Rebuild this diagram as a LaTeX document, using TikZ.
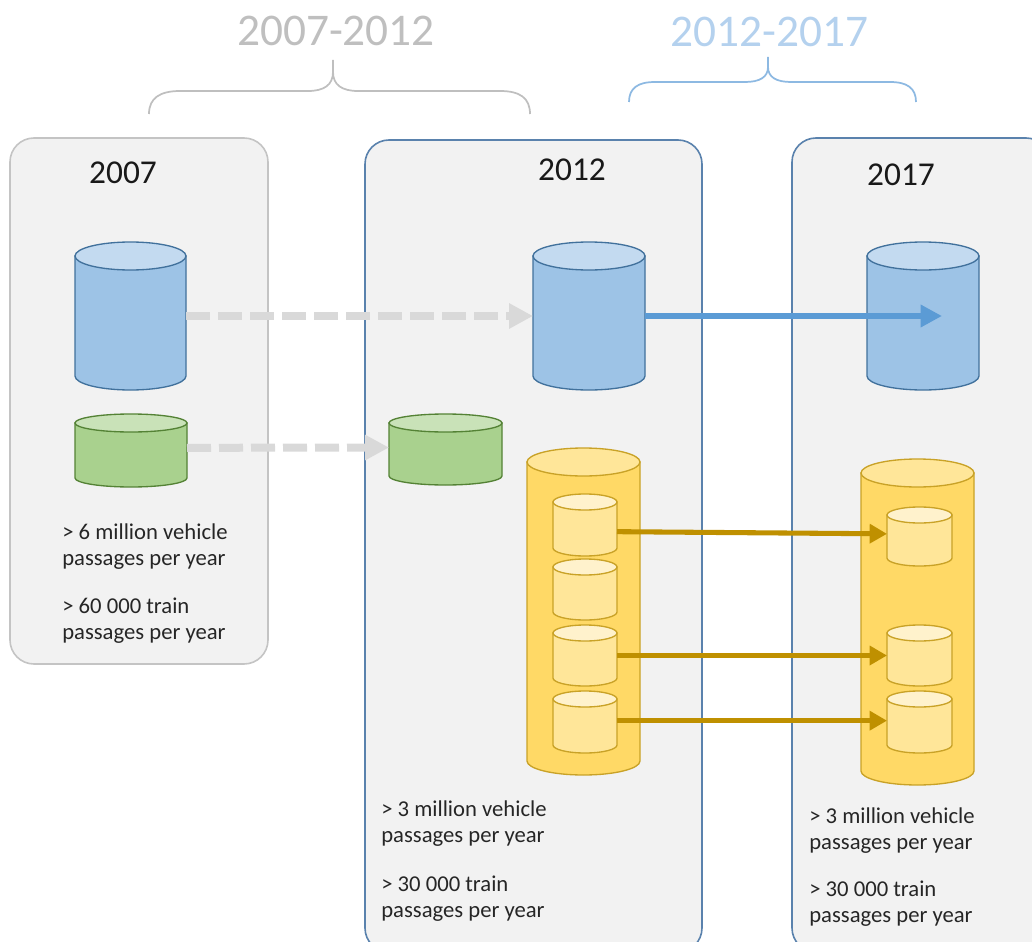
\documentclass[tikz,border=0pt]{standalone}
\usepackage{fontspec}
\setmainfont{Carlito}
\usetikzlibrary{arrows.meta}
\definecolor{panelfill}{HTML}{F2F2F2}
\definecolor{greyline}{HTML}{C4C4C4}
\definecolor{blueline}{HTML}{5A82AD}
\definecolor{cylblue}{HTML}{9DC3E6}
\definecolor{cylbluetop}{HTML}{C3DAF0}
\definecolor{cylbluestroke}{HTML}{41719C}
\definecolor{cylgreen}{HTML}{A9D18E}
\definecolor{cylgreentop}{HTML}{C9E2B8}
\definecolor{cylgreenstroke}{HTML}{548235}
\definecolor{cylyel}{HTML}{FFD966}
\definecolor{cylyeltop}{HTML}{FFE699}
\definecolor{cylyelstroke}{HTML}{C9A227}
\definecolor{smallfill}{HTML}{FFE699}
\definecolor{smalltop}{HTML}{FFF2CC}
\definecolor{greyarrow}{HTML}{D9D9D9}
\definecolor{bluearrow}{HTML}{5B9BD5}
\definecolor{goldarrow}{HTML}{BF9000}
\definecolor{rangegrey}{HTML}{BFBFBF}
\definecolor{rangeblue}{HTML}{B4D1EE}
\definecolor{braceblue}{HTML}{8DB9E2}
\definecolor{bodytext}{HTML}{262626}
\newcommand\mycyl[9]{%
  \pgfmathsetmacro\cylcx{(#2+#3)/2}%
  \pgfmathsetmacro\cylcy{(#4+#5)/2}%
  \pgfmathsetmacro\cylw{(#3-#2)*0.75}%
  \pgfmathsetmacro\cylh{(#5-#4)*0.75}%
  \pgfmathsetmacro\cylrx{(#3-#2)*0.375}%
  \pgfmathsetmacro\cylry{#6*0.75}%
  \pgfmathsetmacro\cyltop{#4+#6}%
  \pgfmathsetmacro\cylbot{#5-#6}%
  \node[cylbox, minimum width=\cylw pt, minimum height=\cylh pt] (#1) at (\cylcx,\cylcy) {};
  \filldraw[cylline, fill=#7, draw=#9] (#2,\cyltop) -- (#2,\cylbot) arc[start angle=180, end angle=360, x radius=\cylrx pt, y radius=\cylry pt] -- (#3,\cyltop) -- cycle;
  \filldraw[cylline, fill=#8, draw=#9] (\cylcx,\cyltop) ellipse[x radius=\cylrx pt, y radius=\cylry pt];
}
\tikzset{
  cylbox/.style={inner sep=0pt, outer sep=0pt, draw=none},
  cylline/.style={line width=1pt},
  panelgrey/.style={draw=greyline, fill=panelfill, line width=1.2pt, rounded corners=18pt},
  panelblue/.style={draw=blueline, fill=panelfill, line width=1.2pt, rounded corners=18pt},
  greydash/.style={draw=greyarrow, line width=6pt, dash pattern=on 18pt off 6pt, -{Triangle[length=18pt,width=18pt]}},
  bluearr/.style={draw=bluearrow, line width=4.2pt, -{Triangle[length=16pt,width=16pt]}},
  goldarr/.style={draw=goldarrow, line width=3.8pt, -{Triangle[length=13pt,width=14pt]}},
  info/.style={font=\fontsize{17}{19.5}\selectfont, text=bodytext, align=left, anchor=base west, inner sep=0pt},
  yeartitle/.style={font=\fontsize{25}{30}\selectfont, text=black!90, anchor=base, inner sep=0pt},
  rangetitle/.style={font=\fontsize{34}{40}\selectfont, anchor=base, inner sep=0pt},
  bracegrey/.style={draw=rangegrey, line width=1.3pt},
  braceblu/.style={draw=braceblue, line width=1.3pt}
}
\begin{document}
\begin{tikzpicture}[x=0.75pt,y=-0.75pt]
\useasboundingbox (0,0) rectangle (1032,942);
\clip (0,0) rectangle (1032,942);
% panels
\draw[panelgrey] (10,138) rectangle (268,664);
\draw[panelblue] (365,140) rectangle (702,952);
\draw[panelblue] (792,138) rectangle (1050,952);
% titles
\node[yeartitle] (h07) at (123,183) {2007};
\node[yeartitle] (h12) at (572,180) {2012};
\node[yeartitle] (h17) at (901,185) {2017};
\node[rangetitle, text=rangegrey] (r1) at (336,46) {2007-2012};
\node[rangetitle, text=rangeblue] (r2) at (769.5,47) {2012-2017};
% braces
\draw[bracegrey] (149,114) .. controls (149,98) and (160,91) .. (180,91) -- (308,91) .. controls (324,91) and (333,85) .. (333,72) -- (333,60);
\draw[bracegrey] (333,72) .. controls (333,85) and (342,91) .. (358,91) -- (500,91) .. controls (520,91) and (530,98) .. (530,114);
\draw[braceblu] (629,102) .. controls (629,88) and (638,82) .. (655,82) -- (745,82) .. controls (760,82) and (768,77) .. (768,67) -- (768,57);
\draw[braceblu] (768,67) .. controls (768,77) and (776,82) .. (791,82) -- (890,82) .. controls (907,82) and (916,88) .. (916,102);
% cylinders
\mycyl{b1}{75}{186}{242}{390}{14}{cylblue}{cylbluetop}{cylbluestroke}
\mycyl{b2}{533}{645}{242}{390}{14}{cylblue}{cylbluetop}{cylbluestroke}
\mycyl{b3}{867}{979}{242}{390}{14}{cylblue}{cylbluetop}{cylbluestroke}
\mycyl{g1}{75}{187}{414}{487}{9}{cylgreen}{cylgreentop}{cylgreenstroke}
\mycyl{g2}{389}{502}{414}{485}{9}{cylgreen}{cylgreentop}{cylgreenstroke}
\mycyl{y1}{527}{640}{448}{775}{14}{cylyel}{cylyeltop}{cylyelstroke}
\mycyl{y2}{861}{974}{459}{785}{14}{cylyel}{cylyeltop}{cylyelstroke}
\mycyl{s1}{553}{617}{494}{556}{8}{smallfill}{smalltop}{cylyelstroke}
\mycyl{s2}{553}{617}{559}{620}{8}{smallfill}{smalltop}{cylyelstroke}
\mycyl{s3}{553}{617}{625}{686}{8}{smallfill}{smalltop}{cylyelstroke}
\mycyl{s4}{553}{617}{691}{753}{8}{smallfill}{smalltop}{cylyelstroke}
\mycyl{t1}{887}{952}{507}{566}{8}{smallfill}{smalltop}{cylyelstroke}
\mycyl{t2}{887}{952}{625}{686}{8}{smallfill}{smalltop}{cylyelstroke}
\mycyl{t3}{887}{952}{691}{753}{8}{smallfill}{smalltop}{cylyelstroke}
% arrows
\draw[greydash] (b1.east) -- (b2.west);
\draw[greydash] ([yshift=2pt]g1.east) -- ([yshift=1.5pt]g2.west);
\coordinate (b3in) at (942,316);
\draw[bluearr] (b2.east) -- (b3in);
\draw[goldarr] ([yshift=-5pt]s1.east) -- ([yshift=2pt]t1.west);
\draw[goldarr] (s3.east) -- (t2.west);
\draw[goldarr] ([yshift=1pt]s4.east) -- ([yshift=1pt]t3.west);
% texts
\node[info] (t07a) at (62,565) {> 6 million vehicle\\passages per year};
\node[info] (t07b) at (62,639) {> 60 000 train\\passages per year};
\node[info] (t12a) at (381,842) {> 3 million vehicle\\passages per year};
\node[info] (t12b) at (381,917) {> 30 000 train\\passages per year};
\node[info] (t17a) at (809,849) {> 3 million vehicle\\passages per year};
\node[info] (t17b) at (809,922) {> 30 000 train\\passages per year};
\end{tikzpicture}
\end{document}
